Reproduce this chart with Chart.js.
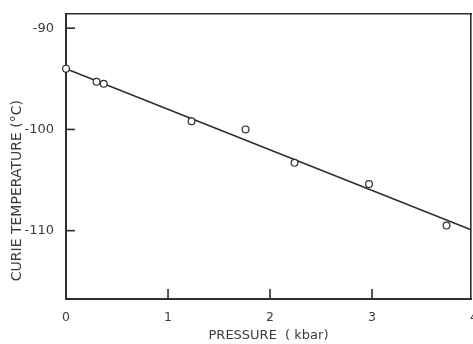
<!DOCTYPE html>
<html>
<head>
<meta charset="utf-8">
<script src="https://cdn.jsdelivr.net/npm/chart.js@4/dist/chart.umd.min.js"></script>
<style>
  html,body{margin:0;padding:0;background:#fff;}
  #wrap{width:473px;height:344px;}
</style>
</head>
<body>
<div id="wrap"><canvas id="c" width="473" height="344"></canvas></div>
<script>
// Measured points: pressure (kbar) and Curie temperature (°C)
const pressure = [0.0, 0.30, 0.37, 1.23, 1.76, 2.24, 2.97, 3.73];
const curieTemp = [-94.0, -95.3, -95.5, -99.2, -100.0, -103.3, -105.4, -109.5];
// Fitted straight line end points (line runs to the right frame)
const fitPressure = [0, 3.97];
const fitTemp = [-94.0, -109.9];
// Tick labels
const xTicks = [0, 1, 2, 3, 4];
const yTicks = [-90, -100, -110];

const ink = '#2e2e2e';
const textInk = '#3c3c3c';
const family = "'DejaVu Sans', 'Liberation Sans', sans-serif";

const pts = pressure.map((p, i) => ({x: p, y: curieTemp[i]}));
const fit = fitPressure.map((p, i) => ({x: p, y: fitTemp[i]}));

// Tick marks pointing into the plot, placed with the scales' own pixel mapping
const innerTicks = {
  id: 'innerTicks',
  afterDraw(chart) {
    const {ctx, chartArea, scales} = chart;
    ctx.save();
    ctx.strokeStyle = ink;
    ctx.lineWidth = 1.6;
    scales.x.ticks.forEach(t => {
      const px = scales.x.getPixelForValue(t.value);
      ctx.beginPath();
      ctx.moveTo(px, chartArea.bottom);
      ctx.lineTo(px, chartArea.bottom - 10);
      ctx.stroke();
    });
    scales.y.ticks.forEach(t => {
      const py = scales.y.getPixelForValue(t.value);
      ctx.beginPath();
      ctx.moveTo(chartArea.left, py);
      ctx.lineTo(chartArea.left + 9, py);
      ctx.stroke();
    });
    ctx.restore();
  }
};

new Chart(document.getElementById('c'), {
  type: 'scatter',
  data: {
    datasets: [
      {
        type: 'line',
        data: fit,
        borderColor: ink,
        borderWidth: 1.6,
        pointRadius: 0,
        fill: false,
        clip: false,
        order: 2
      },
      {
        data: pts,
        pointStyle: 'circle',
        pointRadius: 3.4,
        pointBorderWidth: 1.2,
        borderColor: ink,
        backgroundColor: '#ffffff',
        clip: false,
        order: 1
      }
    ]
  },
  plugins: [innerTicks],
  options: {
    responsive: false,
    animation: false,
    events: [],
    plugins: {legend: {display: false}, tooltip: {enabled: false}},
    layout: {padding: 0, autoPadding: false},
    scales: {
      x: {
        type: 'linear',
        position: 'bottom',
        min: 0, max: 3.97,
        afterBuildTicks: s => { s.ticks = xTicks.map(v => ({value: v})); },
        afterFit: s => { s.height = 45; s.paddingLeft = 0; s.paddingRight = 0; },
        grid: {drawOnChartArea: false, drawTicks: false},
        border: {display: true, color: ink, width: 2},
        ticks: {color: textInk, font: {family, size: 12.5}, padding: 11, maxRotation: 0,
                callback: v => String(v)},
        title: {display: true, text: 'PRESSURE  ( kbar)', color: textInk,
                font: {family, size: 13}, padding: {top: 0, bottom: 1}}
      },
      x2: {
        type: 'linear',
        position: 'top',
        min: 0, max: 3.97,
        afterFit: s => { s.height = 14; s.paddingLeft = 0; s.paddingRight = 0; },
        grid: {display: false},
        border: {display: true, color: ink, width: 1.6},
        ticks: {display: false}
      },
      y: {
        type: 'linear',
        position: 'left',
        min: -116.75, max: -88.6,
        afterBuildTicks: s => { s.ticks = yTicks.map(v => ({value: v})); },
        afterFit: s => { s.width = 66; s.paddingTop = 0; s.paddingBottom = 0; },
        grid: {drawOnChartArea: false, drawTicks: false},
        border: {display: true, color: ink, width: 2},
        ticks: {color: textInk, font: {family, size: 13}, padding: 12,
                callback: v => String(v)},
        title: {display: true, align: 'start', text: '    CURIE TEMPERATURE (°C)', color: textInk,
                font: {family, size: 14}, padding: {top: 9, bottom: 0}}
      },
      y2: {
        type: 'linear',
        position: 'right',
        min: -116.75, max: -88.6,
        afterFit: s => { s.width = 2; s.paddingTop = 0; s.paddingBottom = 0; },
        grid: {display: false},
        border: {display: true, color: ink, width: 1.6},
        ticks: {display: false}
      }
    }
  }
});
</script>
</body>
</html>
